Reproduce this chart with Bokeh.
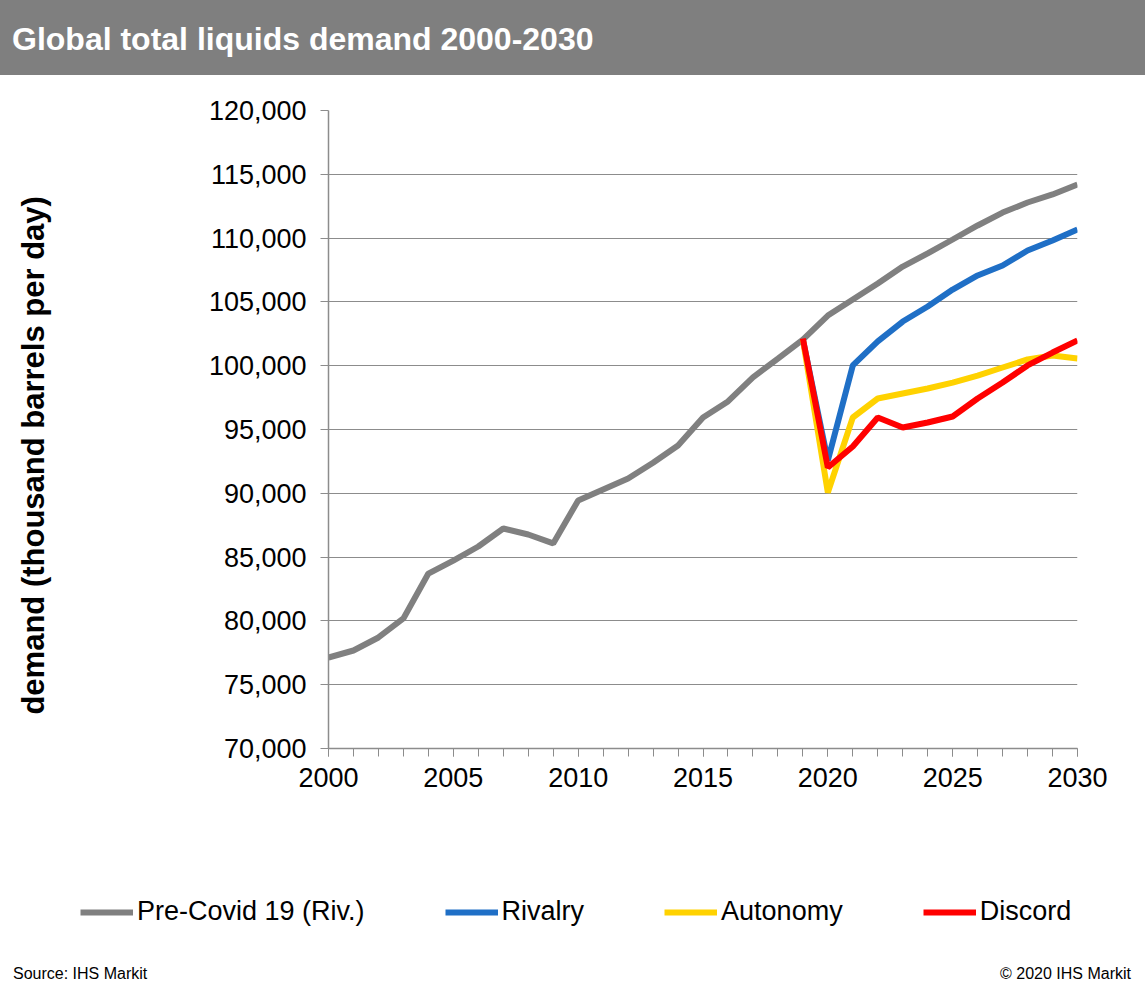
from bokeh.plotting import figure
from bokeh.models import (Div, Legend, LegendItem, SingleIntervalTicker,
                          NumeralTickFormatter, Range1d)
from bokeh.layouts import column
from bokeh.embed import file_html
from bokeh.resources import INLINE

title_text = "Global total liquids demand 2000-2030"
y_label = "demand (thousand barrels per day)"
source_text = "Source: IHS Markit"
copyright_text = "\u00a9 2020 IHS Markit"

years_hist = list(range(2000, 2031))
pre_covid = [77130, 77680, 78700, 80190, 83710, 84730, 85830, 87240, 86770, 86070,
             89440, 90300, 91160, 92400, 93750, 95940, 97200, 99080, 100560, 102050,
             103930, 105190, 106440, 107770, 108800, 109890, 110990, 112000, 112790,
             113420, 114200]

years_scen = list(range(2019, 2031))
rivalry = [102050, 92570, 100020, 101900, 103460, 104640, 105970, 107070, 107850,
           109030, 109810, 110670]
autonomy = [102050, 90060, 95940, 97430, 97820, 98210, 98680, 99230, 99860,
            100490, 100800, 100560]
discord = [102130, 92020, 93670, 95940, 95160, 95550, 96020, 97430, 98680,
           100020, 101030, 101980]

series_names = ["Pre-Covid 19 (Riv.)", "Rivalry", "Autonomy", "Discord"]
series_colors = ["#808080", "#1F6FC6", "#FFD200", "#FF0000"]

FONT = "Liberation Sans"
W = 1145
LW = 6

title_div = Div(
    text=(f'<div style="width:{W}px;height:75px;background:#7f7f7f;color:#ffffff;'
          f'font-family:\'{FONT}\',Arial,sans-serif;font-weight:bold;font-size:32px;'
          f'line-height:72px;padding-top:3px;padding-left:12px;box-sizing:border-box;'
          f'white-space:nowrap;">{title_text}</div>'),
    width=W, height=75, margin=(0, 0, 0, 0))

p = figure(width=W, height=733, output_backend="svg", toolbar_location=None,
           x_range=Range1d(2000, 2030), y_range=Range1d(70000, 120000),
           min_border_left=328, min_border_right=68, min_border_top=35,
           min_border_bottom=60, margin=(0, 0, 0, 0))
p.frame_align = False
p.outline_line_color = None
p.background_fill_color = "white"
p.border_fill_color = "white"

# axes
p.xaxis.ticker = SingleIntervalTicker(interval=5, num_minor_ticks=5)
p.yaxis.ticker = SingleIntervalTicker(interval=5000, num_minor_ticks=0)
p.yaxis.formatter = NumeralTickFormatter(format="0,0")
for ax in (p.xaxis, p.yaxis):
    ax.axis_line_color = "#8c8c8c"
    ax.axis_line_width = 1.5
    ax.major_tick_line_color = "#8c8c8c"
    ax.minor_tick_line_color = "#8c8c8c"
    ax.major_tick_out = 8
    ax.major_tick_in = 0
    ax.minor_tick_out = 8
    ax.minor_tick_in = 0
    ax.major_label_text_font = FONT
    ax.major_label_text_font_size = "27px"
    ax.major_label_text_color = "#000000"
p.yaxis.minor_tick_line_color = None
p.xaxis.major_label_standoff = 11
p.yaxis.major_label_standoff = 14
p.yaxis.axis_label = y_label + "\u00a0" * 6
p.yaxis.axis_label_text_font = FONT
p.yaxis.axis_label_text_font_size = "31px"
p.yaxis.axis_label_text_font_style = "bold"
p.yaxis.axis_label_text_color = "#000000"
p.yaxis.axis_label_standoff = 155

p.xgrid.grid_line_color = None
p.ygrid.grid_line_color = "#8c8c8c"
p.ygrid.grid_line_width = 1.2

p.line(years_hist, pre_covid, line_color=series_colors[0], line_width=LW)
p.line(years_scen, rivalry, line_color=series_colors[1], line_width=LW)
p.line(years_scen, autonomy, line_color=series_colors[2], line_width=LW)
p.line(years_scen, discord, line_color=series_colors[3], line_width=LW)

# legend strip (separate small plot holding only the legend)
pl = figure(width=W, height=147, output_backend="svg", toolbar_location=None,
            x_axis_location=None, y_axis_location=None,
            min_border=0, margin=(0, 0, 0, 0),
            x_range=Range1d(0, 1), y_range=Range1d(0, 1))
pl.frame_align = False
pl.outline_line_color = None
pl.grid.visible = False
nan = float("nan")
legend_renderers = [pl.line([nan], [nan], line_color=c, line_width=LW)
                    for c in series_colors]
legend = Legend(items=[LegendItem(label=n, renderers=[r]) for n, r in
                       zip(series_names, legend_renderers)],
                orientation="horizontal", location=(80, 28),
                label_text_font=FONT, label_text_font_size="27px",
                label_text_color="#000000",
                glyph_width=53, glyph_height=28, label_standoff=4, spacing=80,
                padding=0, margin=0, border_line_color=None,
                background_fill_alpha=0)
pl.add_layout(legend, "center")

footer_div = Div(
    text=(f'<div style="position:relative;width:{W}px;height:43px;'
          f'font-family:\'{FONT}\',Arial,sans-serif;font-size:16px;color:#000;">'
          f'<span style="position:absolute;left:13px;top:8px;">{source_text}</span>'
          f'<span style="position:absolute;right:14px;top:8px;">{copyright_text}</span>'
          f'</div>'),
    width=W, height=43, margin=(0, 0, 0, 0))

layout = column(title_div, p, pl, footer_div, spacing=0)
open("out.html", "w").write(file_html(layout, INLINE))
